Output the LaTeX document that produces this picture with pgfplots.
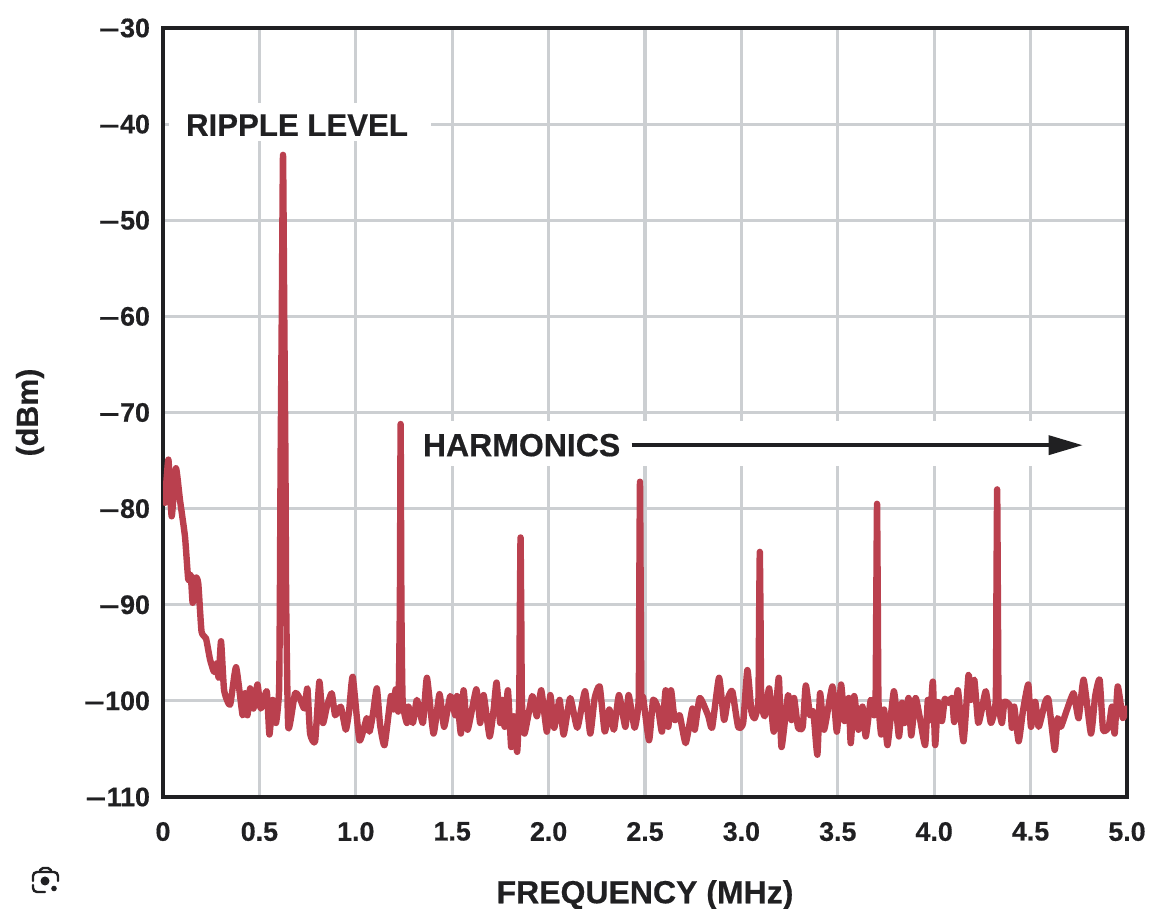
\documentclass[border=0pt]{standalone}
\usepackage{pgfplots}
\pgfplotsset{compat=1.18}
\usepackage{fontspec}
\setmainfont[BoldFeatures={FakeBold=0.5}]{Liberation Sans}
\usetikzlibrary{arrows.meta}
\definecolor{trace}{RGB}{186,64,78}
\definecolor{gridc}{RGB}{204,207,210}
\definecolor{ink}{RGB}{32,32,34}
\newcommand{\mn}{\scalebox{1.35}[1]{--}\kern0.4pt}
\begin{document}
\begin{tikzpicture}[x=1pt,y=1pt]
\useasboundingbox (0,0) rectangle (581,454.5);
\begin{scope}[shift={(0,454.5)},x=0.5pt,y=-0.5pt,ink,line width=1.2pt,line cap=round]
\draw[rounded corners=2pt] (33,881)--(33,872)--(58,872)--(58,881);
\draw[rounded corners=2pt] (33,885)--(33,892)--(45,892);
\draw[rounded corners=1pt] (40,871)--(41,868)--(50,868)--(51,871);
\fill (45,881) circle (4.5);
\fill (54,888.5) circle (2.8);
\end{scope}
\begin{axis}[
  at={(81.5pt,56pt)}, anchor=south west,
  scale only axis, width=482pt, height=384.5pt,
  xmin=0, xmax=5, ymin=-110, ymax=-30,
  xtick={0,0.5,1,1.5,2,2.5,3,3.5,4,4.5,5},
  xticklabels={0,0.5,1.0,1.5,2.0,2.5,3.0,3.5,4.0,4.5,5.0},
  ytick={-110,-100,-90,-80,-70,-60,-50,-40,-30},
  yticklabels={\mn110,\mn100,\mn90,\mn80,\mn70,\mn60,\mn50,\mn40,\mn30},
  tick style={draw=none},
  major tick length=0pt,
  tick label style={font=\fontsize{13.4}{15}\selectfont\bfseries, text=ink},
  xticklabel style={yshift=-9pt},
  yticklabel style={xshift=-3pt},
  grid=major,
  grid style={draw=gridc, line width=1.6pt},
  axis line style={draw=ink, line width=2pt},
  clip=true,
  xlabel={FREQUENCY (MHz)},
  xlabel style={at={(rel axis cs:0.5,0)}, anchor=center, yshift=-49pt, font=\fontsize{16}{18}\selectfont\bfseries, text=ink},
  ylabel={(dBm)},
  ylabel style={at={(rel axis cs:0,0.5)}, anchor=center, rotate=0, yshift=66.5pt, font=\fontsize{15.2}{17}\selectfont\bfseries, text=ink},
]
\addplot[draw=none, fill=white, forget plot] coordinates {(0.03,-37.8) (1.39,-37.8) (1.39,-41.8) (0.03,-41.8)} --cycle;
\addplot[draw=none, fill=white, forget plot] coordinates {(1.3,-70.9) (4.85,-70.9) (4.85,-75.6) (1.3,-75.6)} --cycle;
\addplot[trace, line width=3.2pt, line join=round, line cap=round, smooth, tension=0.3] coordinates {
(0.010,-79.4) (0.028,-74.9) (0.045,-80.8) (0.067,-75.8) (0.088,-79.1) (0.114,-82.9) (0.131,-87.4)
(0.144,-86.9) (0.154,-89.8) (0.170,-87.2) (0.183,-87.8) (0.200,-92.8) (0.223,-93.5) (0.244,-95.7)
(0.265,-97.0) (0.279,-96.1) (0.289,-97.6) (0.301,-93.8) (0.317,-98.9) (0.348,-100.4) (0.379,-96.5)
(0.413,-101.5) (0.426,-99.2) (0.438,-101.5) (0.452,-98.7) (0.469,-100.8) (0.490,-98.3) (0.507,-100.8)
(0.538,-99.0) (0.552,-103.5) (0.569,-99.9) (0.586,-102.3) (0.602,-99.0)
(0.606,-90) (0.610,-75) (0.616,-60) (0.6225,-43.2) (0.629,-60) (0.635,-75) (0.639,-90)
(0.650,-102.8) (0.685,-99.2) (0.711,-99.8) (0.733,-100.8) (0.749,-98.7) (0.763,-103.4) (0.789,-104.2)
(0.811,-98.0) (0.829,-102.3) (0.850,-100.6) (0.875,-99.2) (0.893,-101.5) (0.922,-100.6) (0.948,-103.0)
(0.965,-101.1) (0.984,-97.5) (1.019,-104.1) (1.057,-101.8) (1.071,-103.2) (1.088,-101.5) (1.109,-98.7)
(1.126,-102.5) (1.149,-104.6) (1.182,-99.5) (1.195,-100.9) (1.207,-98.8) (1.221,-101.0)
(1.2285,-90) (1.2325,-71.2) (1.2365,-90) (1.243,-100.0)
(1.265,-102.3) (1.273,-100.6) (1.296,-102.3) (1.317,-99.9) (1.348,-102.3) (1.369,-97.6) (1.403,-103.4)
(1.434,-99.3) (1.458,-102.7) (1.490,-99.5) (1.516,-101.5) (1.525,-99.5) (1.545,-103.4) (1.559,-98.9)
(1.580,-103.0) (1.625,-98.8) (1.645,-102.3) (1.663,-99.4) (1.694,-103.7) (1.715,-100.9) (1.730,-98.1)
(1.749,-102.3) (1.759,-99.9) (1.772,-102.7) (1.789,-98.9) (1.806,-104.8) (1.820,-101.6) (1.837,-105.3)
(1.8475,-100) (1.8505,-92) (1.8545,-83.0) (1.8585,-92) (1.8615,-100) (1.875,-103.4) (1.915,-99.5) (1.939,-101.6) (1.962,-98.9)
(1.991,-103.2) (2.009,-99.4) (2.029,-102.8) (2.057,-99.9) (2.078,-103.5) (2.112,-99.7) (2.149,-102.8)
(2.189,-99.0) (2.216,-103.4) (2.239,-99.7) (2.265,-98.5) (2.291,-103.2) (2.315,-100.9) (2.339,-103.0)
(2.365,-99.4) (2.398,-102.7) (2.415,-99.4) (2.446,-102.8) (2.467,-100) (2.470,-90) (2.474,-77.2) (2.478,-90) (2.481,-99.6)
(2.490,-99.6) (2.521,-104.1) (2.542,-99.9) (2.568,-100.8) (2.588,-103.2) (2.607,-98.9) (2.621,-102.7)
(2.635,-98.9) (2.654,-102.0) (2.680,-101.5) (2.711,-104.4) (2.746,-100.8) (2.758,-103.0) (2.784,-99.7)
(2.827,-101.5) (2.848,-102.8) (2.884,-97.6) (2.910,-102.0) (2.931,-99.7) (2.953,-99.0) (2.983,-102.7)
(3.009,-102.3) (3.031,-96.8) (3.052,-101.1) (3.069,-101.8) (3.088,-100) (3.0915,-92) (3.0955,-84.5) (3.0995,-92) (3.103,-100)
(3.121,-101.6) (3.144,-98.7) (3.168,-103.2) (3.194,-97.6) (3.208,-104.8) (3.242,-99.4) (3.260,-102.0)
(3.273,-99.7) (3.294,-102.8) (3.318,-102.7) (3.334,-98.4) (3.356,-101.5) (3.373,-101.1) (3.394,-105.6)
(3.408,-99.2) (3.429,-103.0) (3.472,-98.5) (3.495,-103.2) (3.517,-98.3) (3.535,-102.1) (3.557,-99.7)
(3.567,-104.4) (3.585,-99.5) (3.607,-103.0) (3.628,-100.6) (3.645,-103.7) (3.671,-99.9) (3.689,-101.5)
(3.696,-100) (3.6995,-90) (3.7035,-79.5) (3.7075,-90) (3.711,-100) (3.725,-103.5) (3.740,-100.9) (3.758,-104.6) (3.791,-99.0)
(3.817,-103.7) (3.833,-100.2) (3.846,-102.3) (3.867,-99.7) (3.881,-103.6) (3.903,-99.7) (3.924,-101.6)
(3.953,-104.6) (3.967,-99.9) (3.979,-102.0) (3.993,-98.0) (4.005,-104.6) (4.019,-100.1) (4.040,-102.1)
(4.055,-99.8) (4.074,-100.2) (4.093,-99.7) (4.104,-102.2) (4.123,-98.9) (4.152,-104.2) (4.178,-97.3)
(4.190,-99.9) (4.208,-97.8) (4.228,-102.3) (4.247,-100.9) (4.268,-99.0) (4.294,-102.3)
(4.319,-100) (4.3225,-90) (4.3265,-78.0) (4.3305,-90) (4.334,-100) (4.351,-102.3) (4.365,-100.1) (4.395,-100.6) (4.403,-102.8)
(4.415,-100.6) (4.438,-104.2) (4.460,-101.1) (4.488,-98.3) (4.502,-102.7) (4.524,-100.1) (4.542,-102.7)
(4.576,-100.1) (4.593,-99.9) (4.625,-105.1) (4.640,-101.8) (4.657,-102.7) (4.689,-100.9) (4.723,-99.2)
(4.749,-101.8) (4.775,-97.8) (4.813,-103.4) (4.835,-99.5) (4.858,-97.8) (4.876,-103.0) (4.905,-102.7)
(4.922,-100.6) (4.936,-103.4) (4.952,-98.5) (4.978,-101.8) (4.995,-100.8)
};
\node[anchor=center, font=\fontsize{15.6}{17}\selectfont\bfseries, text=ink, inner sep=0pt] at (axis cs:0.695,-40.1) {RIPPLE LEVEL};
\node[anchor=center, font=\fontsize{16}{17}\selectfont\bfseries, text=ink, inner sep=0pt] at (axis cs:1.86,-73.4) {HARMONICS};
\draw[ink, line width=1.8pt, -{Triangle[length=17pt,width=9.5pt]}] (axis cs:2.43,-73.4) -- (axis cs:4.77,-73.4);
\end{axis}
\end{tikzpicture}
\end{document}
